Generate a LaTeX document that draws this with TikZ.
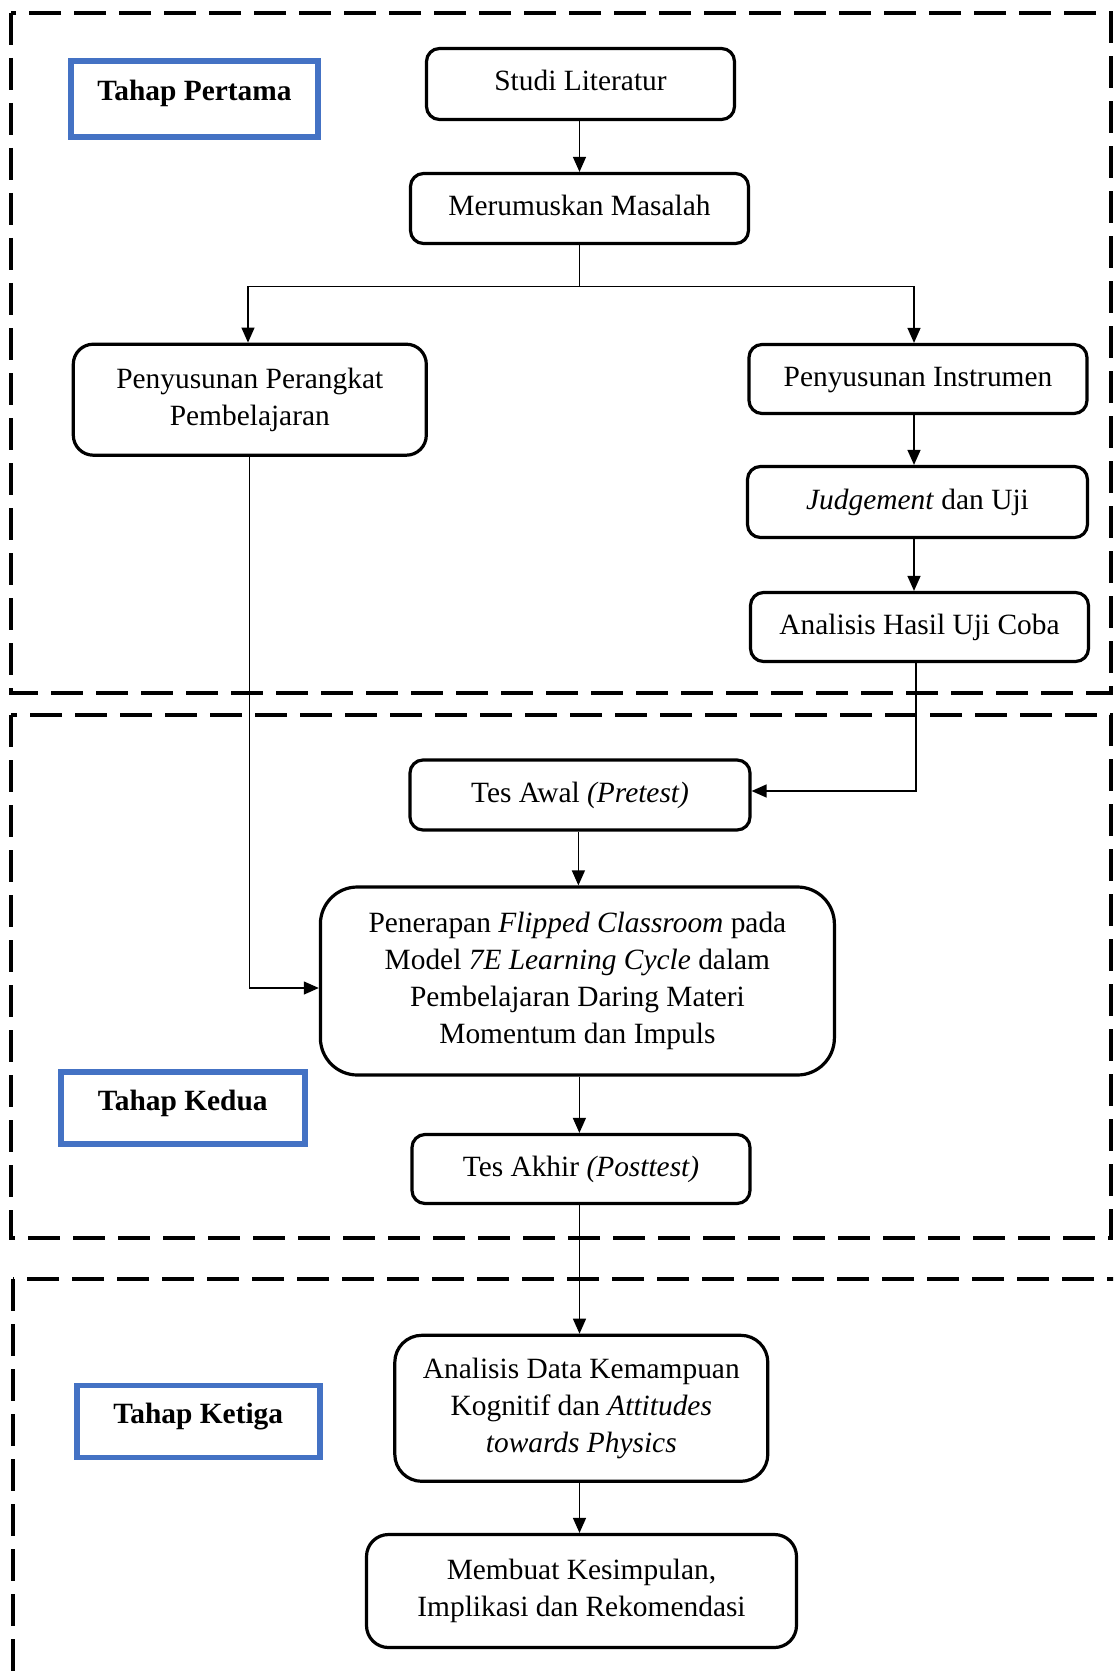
\documentclass[tikz,border=0pt]{standalone}
\usepackage{fontspec}
\setmainfont{Liberation Serif}
\usetikzlibrary{arrows.meta}
\definecolor{tahapblue}{HTML}{4472C4}
\begin{document}
\begin{tikzpicture}[x=1pt,y=-1pt,
  frame/.style={draw=black, line width=4pt, dash pattern=on 32pt off 13pt},
  tahap/.style={draw=tahapblue, line width=5.5pt, fill=white, font=\fontsize{29.4}{36.9}\selectfont\bfseries, inner sep=0pt, text height=20pt, text depth=16pt},
  proc/.style={draw=black, line width=3.2pt, rounded corners=13pt, fill=white, font=\fontsize{29.4}{36.9}\selectfont, align=center, inner sep=0pt},
  oneline/.style={text height=20pt, text depth=6pt},
  conn/.style={line width=1.3pt, draw=black},
  arr/.style={conn, -{Triangle[length=15pt,width=13pt]}}
]
\useasboundingbox (0,0) rectangle (1113,1677);
\begin{scope}
\clip (0,0) rectangle (1113,1677);
% dashed frames
\draw[frame] (11,13) rectangle (1111,693);
\draw[frame] (11,715) rectangle (1111,1238);
\draw[frame] (13,1279) rectangle (1160,1730);
\end{scope}

% stage labels
\node[tahap, minimum width=247pt, minimum height=76pt] (t1) at (194.5,99) {Tahap Pertama};
\node[tahap, minimum width=244pt, minimum height=72pt] (t2) at (182.8,1108) {Tahap Kedua};
\node[tahap, minimum width=243pt, minimum height=72pt] (t3) at (198.3,1421.5) {Tahap Ketiga};

% process boxes
\node[proc, oneline, minimum width=308pt, minimum height=71pt] (studi) at (580.5,84) {Studi Literatur};
\node[proc, oneline, minimum width=338pt, minimum height=70pt] (merum) at (579.5,208.5) {Merumuskan Masalah};
\node[proc, rounded corners=20pt, minimum width=353pt, minimum height=111pt] (perangkat) at (249.8,399.7) {Penyusunan Perangkat\\Pembelajaran};
\node[proc, oneline, minimum width=338pt, minimum height=69pt] (instrumen) at (918,379) {Penyusunan Instrumen};
\node[proc, oneline, minimum width=340pt, minimum height=71pt] (judge) at (917.5,502) {\textit{Judgement} dan Uji};
\node[proc, oneline, minimum width=338pt, minimum height=69pt] (anhasil) at (919.5,627) {Analisis Hasil Uji Coba};
\node[proc, oneline, minimum width=340pt, minimum height=70pt] (tesawal) at (580,795) {Tes Awal \textit{(Pretest)}};
\node[proc, rounded corners=37pt, minimum width=514pt, minimum height=188pt] (penerapan) at (577.4,981) {Penerapan \textit{Flipped Classroom} pada\\Model \textit{7E Learning Cycle} dalam\\Pembelajaran Daring Materi\\Momentum dan Impuls};
\node[proc, oneline, minimum width=338pt, minimum height=69pt] (tesakhir) at (581,1169) {Tes Akhir \textit{(Posttest)}};
\node[proc, rounded corners=27pt, minimum width=373pt, minimum height=146pt] (andata) at (581.3,1408.3) {Analisis Data Kemampuan\\Kognitif dan \textit{Attitudes}\\\textit{towards Physics}};
\node[proc, rounded corners=22pt, minimum width=430pt, minimum height=113pt] (simpul) at (581.5,1591) {Membuat Kesimpulan,\\Implikasi dan Rekomendasi};

% connectors
\coordinate (split) at (579.5,286.5);
\draw[arr] ([xshift=-1pt]studi.south) -- ([xshift=-1pt]studi.south |- merum.north);
\draw[conn] (merum.south) -- (split);
\draw[arr] (split) -| ([xshift=-1.8pt]perangkat.north);
\draw[arr] (split) -| ([xshift=-4pt]instrumen.north);
\draw[arr] ([xshift=-4pt]instrumen.south) -- ([xshift=-4pt]instrumen.south |- judge.north);
\draw[arr] ([xshift=-3.5pt]judge.south) -- ([xshift=-3.5pt]judge.south |- anhasil.north);
\draw[arr] ([xshift=-3.5pt]anhasil.south) |- ([yshift=4pt]tesawal.east);
\draw[arr] (perangkat.south) |- ([yshift=-7pt]penerapan.west);
\draw[arr] ([xshift=-1.6pt]tesawal.south) -- ([xshift=-1.6pt]tesawal.south |- penerapan.north);
\draw[arr] ([xshift=2pt]penerapan.south) -- ([xshift=2pt]penerapan.south |- tesakhir.north);
\draw[arr] ([xshift=-1.5pt]tesakhir.south) -- ([xshift=-1.5pt]tesakhir.south |- andata.north);
\draw[arr] ([xshift=-1.8pt]andata.south) -- ([xshift=-1.8pt]andata.south |- simpul.north);
\end{tikzpicture}
\end{document}
